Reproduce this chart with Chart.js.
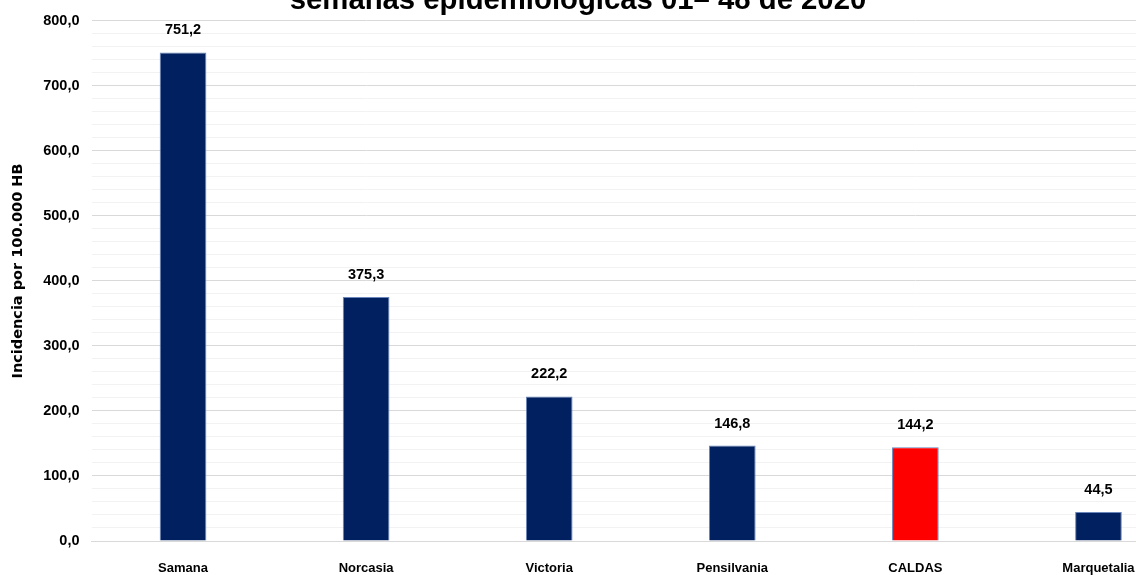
<!DOCTYPE html>
<html>
<head>
<meta charset="utf-8">
<script src="https://cdn.jsdelivr.net/npm/chart.js@4"></script>
<style>
  html, body { margin: 0; padding: 0; background: #fff; overflow: hidden; }
  #wrap { width: 1190px; height: 575px; }
</style>
</head>
<body>
<div id="wrap"><canvas id="myChart" width="1190" height="575"></canvas></div>
<script>
// data
var municipios = ['Samana', 'Norcasia', 'Victoria', 'Pensilvania', 'CALDAS', 'Marquetalia'];
var incidencia = [751.2, 375.3, 222.2, 146.8, 144.2, 44.5];
var colores = ['#002060', '#002060', '#002060', '#002060', '#FF0000', '#002060'];
var tituloVisible = 'semanas epidemiológicas 01– 48 de 2020';
var tituloEje = 'Incidencia por 100.000 HB';

var fuente = '"Liberation Sans", Arial, sans-serif';

function fmt(v) {
    return v.toFixed(1).replace('.', ',');
}

// value labels above bars
var etiquetas = {
    id: 'etiquetas',
    afterDatasetsDraw: function (chart) {
        var ctx = chart.ctx;
        var meta = chart.getDatasetMeta(0);
        ctx.save();
        ctx.font = 'bold 14.5px ' + fuente;
        ctx.fillStyle = '#000';
        ctx.textAlign = 'center';
        ctx.textBaseline = 'middle';
        meta.data.forEach(function (bar, i) {
            ctx.fillText(fmt(incidencia[i]), bar.x, bar.y - 22);
        });
        ctx.restore();
    }
};

// title (cut at the top) and rotated axis title
var textos = {
    id: 'textos',
    afterDraw: function (chart) {
        var ctx = chart.ctx;
        ctx.save();
        ctx.fillStyle = '#000';
        ctx.font = 'bold 29.3px ' + fuente;
        ctx.textAlign = 'center';
        ctx.textBaseline = 'alphabetic';
        ctx.fillText(tituloVisible, 578, 9);

        ctx.translate(18, 271);
        ctx.rotate(-Math.PI / 2);
        ctx.font = 'bold 14.5px "DejaVu Sans", sans-serif';
        ctx.textBaseline = 'middle';
        ctx.fillText(tituloEje, 0, 0);
        ctx.restore();
    }
};

var ctx = document.getElementById('myChart').getContext('2d');

var myChart = new Chart(ctx, {
    type: 'bar',
    data: {
        labels: municipios,
        datasets: [{
            data: incidencia,
            backgroundColor: colores,
            borderColor: '#6a86ba',
            borderWidth: 1,
            barPercentage: 0.255,
            categoryPercentage: 1
        }]
    },
    options: {
        responsive: false,
        animation: false,
        layout: { padding: { top: 18, left: 0, right: 0, bottom: 0 } },
        plugins: {
            legend: { display: false },
            tooltip: { enabled: false },
            title: { display: false }
        },
        scales: {
            x: {
                grid: { display: false },
                border: { display: true, color: '#d9d9d9' },
                ticks: {
                    color: '#000',
                    padding: 12,
                    maxRotation: 0,
                    font: { family: fuente, size: 13, weight: 'bold' }
                },
                afterFit: function (scale) { scale.height = 34; }
            },
            y: {
                min: 0,
                max: 800,
                border: { display: false },
                grid: {
                    drawTicks: false,
                    color: function (c) {
                        return c.tick && c.tick.value % 100 === 0 ? '#d9d9d9' : '#f2f2f2';
                    }
                },
                ticks: {
                    stepSize: 20,
                    autoSkip: false,
                    color: '#000',
                    padding: 12,
                    font: { family: fuente, size: 14.5, weight: 'bold' },
                    callback: function (v) {
                        return v % 100 === 0 ? fmt(v) : '';
                    }
                },
                afterFit: function (scale) { scale.width = 91.5; }
            }
        }
    },
    plugins: [etiquetas, textos]
});
</script>
</body>
</html>
